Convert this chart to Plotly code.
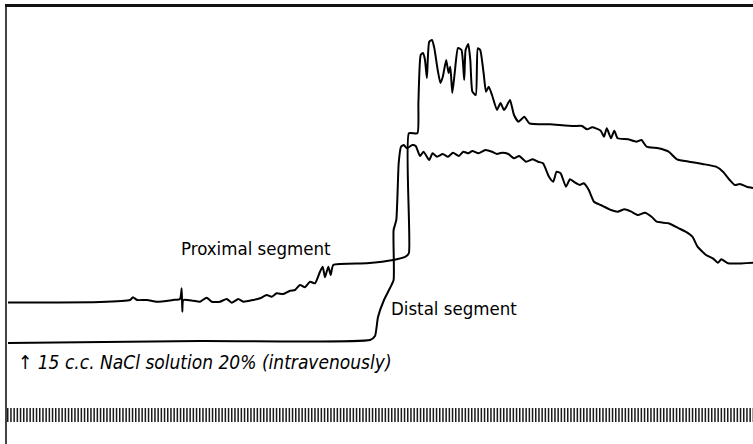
import plotly.graph_objects as go

# kymograph tracing: drum position (px units) and pen height (up = larger)
prox_x = [8, 100, 130, 133, 137, 147, 157, 173, 180, 181.7, 182.3, 183.3, 193, 200, 206.7, 211.7,
          220, 226.7, 231.7, 238.3, 243.3, 253.3, 260, 266.7, 271.7, 276.7, 283.3, 290, 295, 300,
          305, 310, 315, 320, 322.7, 325, 328.3, 330.7, 333.3, 366.7, 393.3, 405.5, 408.9, 408.9,
          417.4, 418.4, 420.7, 423, 425, 426.9, 429.2, 432, 434.3, 437.7, 440.4, 442.8, 446.2,
          448.6, 450.3, 452.3, 454.7, 458, 461.5, 464.2, 465.6, 468.3, 470.3, 472.4, 475.8, 477.8,
          480.2, 483.6, 486, 488.7, 492, 497, 500.5, 504, 506.3, 510, 514, 518.5, 524.3, 529.4,
          549.8, 573.5, 582, 587, 592.2, 600.7, 604, 606.8, 611, 614.3, 617.7, 628, 636.4, 641.5,
          646.6, 658.4, 668.6, 677, 689, 702.6, 716, 723, 729.7, 734.8, 740, 746.7, 753]
prox_y = [141.5, 142, 144, 146.7, 144, 144, 142.3, 144, 145, 155.7, 132.3, 144, 143.3, 142.3,
          146.3, 142.3, 142.3, 145, 141.3, 145, 142.3, 144, 145.7, 149, 147.3, 150.7, 150, 153.3,
          154, 159, 156.7, 162.3, 160.7, 172.3, 177.3, 166.7, 177.3, 169, 179, 180.7, 184, 187.3,
          191, 310.7, 310.7, 341, 389, 391, 384, 366, 402.3, 404, 396, 374, 361, 367.3, 384, 371,
          377.3, 351, 371, 396, 394, 364, 394, 400, 384, 352.3, 349, 395.7, 394, 371, 352.3, 357.3,
          349, 334, 341, 334, 337.3, 344, 329, 322.3, 327.3, 320.7, 319.7, 318, 318, 314.7, 316.7,
          313.3, 307.3, 315.7, 305.7, 313.3, 305.7, 304.7, 302.3, 304, 297.3, 295.7, 292.3, 284.7,
          282.3, 280, 277.3, 272.3, 264, 259, 260, 257.3, 256]

dist_x = [8, 200, 370, 375, 378, 384, 390, 393.6, 393.6, 396.3, 398.7, 401, 403.8, 407, 412.3,
          415.7, 420, 423.5, 429.2, 432.6, 437, 442.8, 448, 453, 458.8, 463.2, 468.3, 472.4, 478.5,
          485.3, 492, 497, 502, 508.4, 514, 519.2, 526, 532.8, 538, 543, 549, 553.2, 556.6, 560.6,
          566, 570, 575.2, 579.7, 583.7, 588.8, 594, 600.7, 611, 617.7, 624.5, 631.3, 638, 644.9,
          651.6, 656.7, 668.6, 678.8, 685.6, 692.4, 697.5, 706, 712.8, 717.9, 721.3, 728, 753]
dist_y = [101, 103, 104, 108, 127, 144, 156, 164, 214, 224, 281, 297.3, 299, 295.7, 299, 298,
          288, 292.3, 284, 290.7, 287.3, 290, 287.3, 291.3, 288, 292.3, 290.7, 293, 290.7, 294,
          292.3, 290, 291.3, 290, 285.7, 288, 282.3, 284.7, 282.3, 280.7, 267.3, 262.3, 272.3,
          270.7, 257.3, 264.7, 261.3, 259, 260.7, 254, 242.3, 239, 234, 232.3, 234.7, 232.3, 229,
          231.3, 227.3, 222.3, 220.7, 215.7, 212.3, 207.3, 197.3, 189, 185.7, 181.3, 184.7, 180.7,
          181.3]

# time signal (regular marks) along the bottom of the record
signal_x = [7, 753]
signal_y = [29, 29]

fig = go.Figure()

fig.add_trace(go.Scatter(x=signal_x, y=signal_y, mode='lines',
                         line=dict(color='#1a1a1a', width=14, dash='1.5px,1.7px'),
                         hoverinfo='skip'))
fig.add_trace(go.Scatter(x=dist_x, y=dist_y, mode='lines',
                         line=dict(color='black', width=2, shape='spline', smoothing=0.5),
                         name='Distal segment'))
fig.add_trace(go.Scatter(x=prox_x, y=prox_y, mode='lines',
                         line=dict(color='black', width=2, shape='spline', smoothing=0.5),
                         name='Proximal segment'))

label_font = dict(family='DejaVu Sans Condensed, DejaVu Sans', size=18.5, color='black')
note_font = dict(family='DejaVu Sans Condensed, DejaVu Sans', size=19, color='black')
fig.add_annotation(x=256, y=196, text='Proximal segment', showarrow=False, font=label_font)
fig.add_annotation(x=454, y=136, text='Distal segment', showarrow=False, font=label_font)
fig.add_annotation(x=16, y=82, xanchor='left',
                   text='<i>↑ 15 c.c. NaCl solution 20% (intravenously)</i>',
                   showarrow=False, font=note_font)

fig.update_layout(
    width=753, height=444,
    margin=dict(l=7, r=0, t=7, b=0),
    paper_bgcolor='white', plot_bgcolor='white',
    showlegend=False,
    xaxis=dict(range=[7, 753], side='top', showline=True, linecolor='#111', linewidth=2.5,
               showgrid=False, zeroline=False, showticklabels=False, ticks=''),
    yaxis=dict(range=[0, 437], showline=True, linecolor='#444', linewidth=1.5,
               showgrid=False, zeroline=False, showticklabels=False, ticks=''),
)

# drop the default page margin so the figure fills the window
fig.write_html("out.html", config={'displayModeBar': False},
               post_script="document.body.style.margin='0';")
